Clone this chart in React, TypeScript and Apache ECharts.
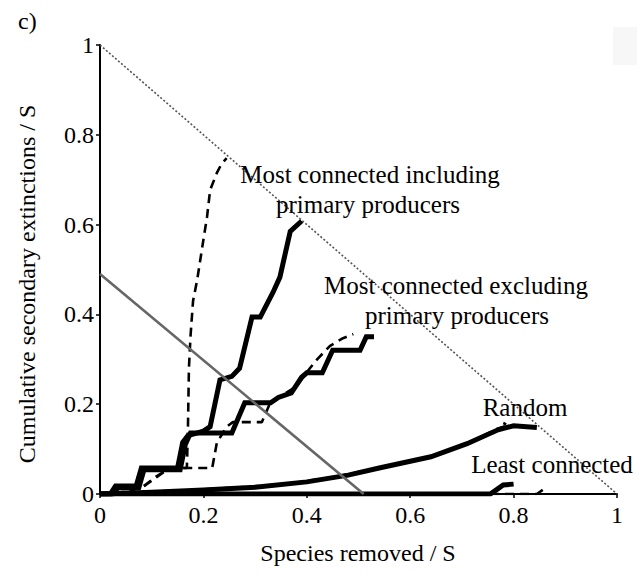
import React, { useEffect, useRef } from "react";
import * as echarts from "echarts";

// Cumulative secondary extinctions vs fraction of species removed (both scaled by S)
const xTicks = [0, 0.2, 0.4, 0.6, 0.8, 1];
const yTicks = [0, 0.2, 0.4, 0.6, 0.8, 1];

// Most connected species removed first, primary producers included
const mostInclSolid: number[][] = [
  [0, 0], [0.02, 0], [0.03, 0.018], [0.07, 0.018], [0.08, 0.058], [0.15, 0.058],
  [0.16, 0.115], [0.17, 0.13], [0.2, 0.14], [0.213, 0.15], [0.232, 0.254],
  [0.255, 0.262], [0.27, 0.28], [0.294, 0.394], [0.31, 0.394], [0.335, 0.45],
  [0.348, 0.483], [0.368, 0.585], [0.39, 0.608],
];
const mostInclDashed: number[][] = [
  [0, 0], [0.04, 0.003], [0.06, 0.008], [0.083, 0.016], [0.11, 0.04], [0.135, 0.058],
  [0.168, 0.058], [0.17, 0.14], [0.172, 0.28], [0.175, 0.35], [0.18, 0.43],
  [0.188, 0.477], [0.2, 0.566], [0.207, 0.617], [0.213, 0.677], [0.226, 0.715],
  [0.235, 0.735], [0.245, 0.748],
];

// Most connected species removed first, primary producers excluded
const mostExclSolid: number[][] = [
  [0, 0], [0.025, 0], [0.035, 0.014], [0.075, 0.014], [0.085, 0.054], [0.155, 0.054],
  [0.165, 0.11], [0.175, 0.136], [0.255, 0.136], [0.28, 0.203], [0.33, 0.203],
  [0.345, 0.215], [0.37, 0.225], [0.39, 0.26], [0.4, 0.27], [0.43, 0.27],
  [0.45, 0.32], [0.503, 0.32], [0.515, 0.35], [0.53, 0.35],
];
const mostExclDashed: number[][] = [
  [0, 0], [0.04, 0.003], [0.083, 0.016], [0.135, 0.058], [0.217, 0.058],
  [0.226, 0.114], [0.245, 0.15], [0.257, 0.16], [0.313, 0.16], [0.33, 0.205],
  [0.35, 0.218], [0.38, 0.24], [0.406, 0.28], [0.42, 0.3], [0.445, 0.33],
  [0.47, 0.347], [0.49, 0.356],
];

// Random removal order
const randomSolid: number[][] = [
  [0, 0], [0.1, 0.004], [0.2, 0.009], [0.3, 0.015], [0.4, 0.027], [0.48, 0.042],
  [0.54, 0.058], [0.64, 0.083], [0.71, 0.112], [0.77, 0.143], [0.8, 0.152],
  [0.845, 0.148],
];
const randomDashed: number[][] = [
  [0, 0], [0.2, 0.01], [0.35, 0.021], [0.45, 0.037], [0.55, 0.061], [0.65, 0.087],
  [0.72, 0.118], [0.77, 0.146], [0.79, 0.153], [0.78, 0.158],
];

// Least connected species removed first
const leastSolid: number[][] = [
  [0, 0], [0.755, 0], [0.77, 0.012], [0.78, 0.02], [0.8, 0.022],
];
const leastDashed: number[][] = [
  [0, 0], [0.845, 0], [0.855, 0.008], [0.865, 0.016],
];

// Reference lines
const diagonal: number[][] = [[0, 1], [1, 0]];
const greyLine: number[][] = [[0, 0.49], [0.51, 0]];

const SERIF = '"Liberation Serif", "Times New Roman", serif';

export default function App() {
  const ref = useRef<HTMLDivElement>(null);

  useEffect(() => {
    if (!ref.current) return;
    const chart = echarts.init(ref.current, null, { renderer: "svg" });

    const solid = (data: number[][], z = 3) => ({
      type: "line",
      data,
      symbol: "none",
      z,
      lineStyle: { color: "#000", width: 5, cap: "butt", join: "miter" },
    });
    const dashed = (data: number[][], z = 4) => ({
      type: "line",
      data,
      symbol: "none",
      z,
      lineStyle: { color: "#000", width: 2.6, type: [9, 6], cap: "butt" },
    });

    const label = (text: string, x: number, y: number, align = "center", size = 25) => ({
      type: "text",
      x,
      y,
      z: 10,
      style: {
        text,
        fontFamily: SERIF,
        fontSize: size,
        fill: "#000",
        align,
        verticalAlign: "middle",
      },
    });

    chart.setOption({
      animation: false,
      backgroundColor: "#fff",
      grid: { left: 100, right: 27, top: 45, bottom: 82 },
      xAxis: {
        type: "value",
        min: xTicks[0],
        max: xTicks[xTicks.length - 1],
        interval: 0.2,
        axisLine: { show: true, lineStyle: { color: "#000", width: 2 } },
        axisTick: { show: true, length: 4, lineStyle: { color: "#000", width: 1.5 } },
        axisLabel: { fontFamily: SERIF, fontSize: 24, color: "#000", margin: 9 },
        splitLine: { show: false },
      },
      yAxis: {
        type: "value",
        min: yTicks[0],
        max: yTicks[yTicks.length - 1],
        interval: 0.2,
        axisLine: { show: true, lineStyle: { color: "#000", width: 2 } },
        axisTick: { show: true, length: 4, lineStyle: { color: "#000", width: 1.5 } },
        axisLabel: { fontFamily: SERIF, fontSize: 24, color: "#000", margin: 6 },
        splitLine: { show: false },
      },
      series: [
        {
          type: "line",
          data: diagonal,
          symbol: "none",
          z: 2,
          lineStyle: { color: "#555", width: 1.6, type: [2, 2] },
        },
        {
          type: "line",
          data: greyLine,
          symbol: "none",
          z: 5,
          lineStyle: { color: "#666", width: 2.6 },
        },
        solid(leastSolid),
        dashed(leastDashed),
        solid(randomSolid),
        dashed(randomDashed),
        solid(mostExclSolid),
        dashed(mostExclDashed),
        solid(mostInclSolid),
        dashed(mostInclDashed),
      ],
      graphic: [
        {
          type: "rect",
          shape: { x: 613, y: 27, width: 24, height: 38 },
          style: { fill: "#f7f7f7" },
          z: 0,
        },
        label("c)", 18, 21, "left", 24),
        label("Most connected including", 370, 174),
        label("primary producers", 368, 204),
        label("Most connected excluding", 456, 285),
        label("primary producers", 457, 315),
        label("Random", 525, 407),
        label("Least connected", 552, 464),
        label("Species removed / S", 358, 553, "center", 24),
        {
          type: "text",
          x: 27,
          y: 284,
          rotation: Math.PI / 2,
          z: 10,
          style: {
            text: "Cumulative secondary extinctions / S",
            fontFamily: SERIF,
            fontSize: 24,
            fill: "#000",
            align: "center",
            verticalAlign: "middle",
          },
        },
      ],
    });

    return () => chart.dispose();
  }, []);

  return (
    <div
      ref={ref}
      style={{ position: "fixed", left: 0, top: 0, width: 644, height: 576 }}
    />
  );
}
